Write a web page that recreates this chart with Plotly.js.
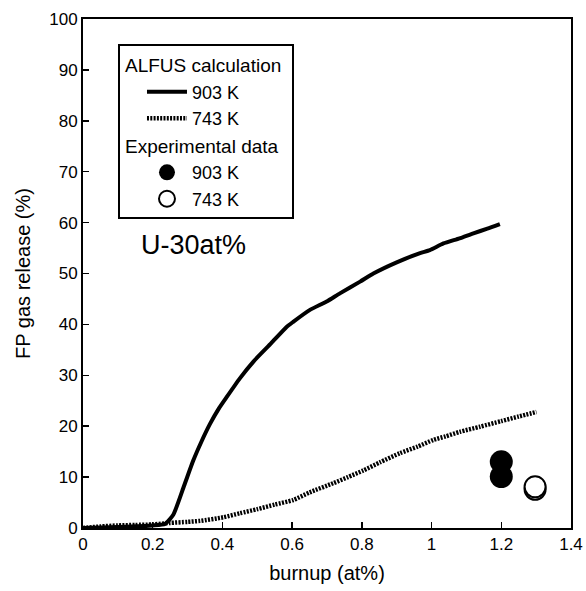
<!DOCTYPE html>
<html>
<head>
<meta charset="utf-8">
<script src="https://cdn.plot.ly/plotly-3.0.1.min.js"></script>
<style>
  html, body { margin: 0; padding: 0; background: #ffffff; }
  #chart { width: 586px; height: 591px; }
</style>
</head>
<body>
<div id="chart"></div>
<script>
// ALFUS calculation, 903 K
const calc903Burnup = [0, 0.10, 0.20, 0.235, 0.259, 0.29, 0.316, 0.34, 0.364, 0.39, 0.412, 0.45, 0.489, 0.54, 0.584, 0.603, 0.65, 0.699, 0.737, 0.795, 0.833, 0.90, 0.967, 0.995, 1.034, 1.08, 1.12, 1.16, 1.196];
const calc903Release = [0, 0.2, 0.5, 0.8, 2.6, 8.3, 13.2, 17.0, 20.4, 23.5, 25.7, 29.4, 32.7, 36.3, 39.5, 40.5, 42.8, 44.5, 46.1, 48.4, 50.0, 52.2, 54.0, 54.6, 55.9, 56.9, 57.9, 58.8, 59.7];

// ALFUS calculation, 743 K
const calc743Burnup = [0, 0.05, 0.10, 0.15, 0.20, 0.25, 0.30, 0.336, 0.402, 0.45, 0.50, 0.55, 0.603, 0.65, 0.718, 0.76, 0.804, 0.852, 0.909, 0.96, 1.005, 1.04, 1.081, 1.139, 1.20, 1.25, 1.301];
const calc743Release = [0, 0.3, 0.5, 0.6, 0.7, 1.0, 1.2, 1.4, 2.1, 2.9, 3.7, 4.6, 5.5, 7.0, 8.8, 10.0, 11.3, 12.9, 14.7, 16.0, 17.3, 18.0, 18.9, 19.9, 21.0, 21.9, 22.8];

// Experimental data
const exp903Burnup = [1.2, 1.2];
const exp903Release = [10.1, 13.0];
const exp743Burnup = [1.297, 1.297];
const exp743Release = [7.6, 8.1];

const xTickVals = [0, 0.2, 0.4, 0.6, 0.8, 1.0, 1.2, 1.4];
const xTickText = ["0", "0.2", "0.4", "0.6", "0.8", "1", "1.2", "1.4"];
const yTickVals = [0, 10, 20, 30, 40, 50, 60, 70, 80, 90, 100];

const FONT = "Liberation Sans, Arial, Helvetica, sans-serif";

const traces = [
  {
    x: calc903Burnup, y: calc903Release, type: "scatter", mode: "lines",
    name: "903 K", legendgroup: "calc",
    legendgrouptitle: { text: "ALFUS calculation", font: { size: 19, color: "#000" } },
    line: { color: "#000000", width: 4, shape: "spline", smoothing: 0.5 }
  },
  {
    x: calc743Burnup, y: calc743Release, type: "scatter", mode: "lines",
    name: "743 K", legendgroup: "calc",
    line: { color: "#000000", width: 4.5, dash: "2px,1.3px", shape: "spline", smoothing: 0.6 }
  },
  {
    x: exp903Burnup, y: exp903Release, type: "scatter", mode: "markers",
    name: "903 K", legendgroup: "exp",
    legendgrouptitle: { text: "Experimental data", font: { size: 19, color: "#000" } },
    marker: { symbol: "circle", size: 23, color: "#000000", line: { color: "#000", width: 0 } }
  },
  {
    x: exp743Burnup, y: exp743Release, type: "scatter", mode: "markers",
    name: "743 K", legendgroup: "exp",
    marker: { symbol: "circle", size: 21, color: "#ffffff", line: { color: "#000000", width: 2 } }
  }
];

const layout = {
  width: 586, height: 591,
  margin: { l: 83, r: 15, t: 19, b: 63 },
  paper_bgcolor: "#ffffff", plot_bgcolor: "#ffffff",
  font: { family: FONT, size: 17, color: "#000000" },
  showlegend: true,
  legend: {
    x: 0.0717, y: 0.951, xanchor: "left", yanchor: "top",
    bordercolor: "#000000", borderwidth: 2, bgcolor: "#ffffff",
    font: { family: FONT, size: 18, color: "#000" },
    tracegroupgap: 0,
    indentation: 22,
    itemwidth: 40
  },
  xaxis: {
    range: [0, 1.4], tickmode: "array", tickvals: xTickVals, ticktext: xTickText,
    ticks: "inside", ticklen: 6, tickwidth: 1.5, tickcolor: "#000",
    showline: true, linecolor: "#000", linewidth: 2, mirror: true,
    showgrid: false, zeroline: false,
    tickfont: { family: FONT, size: 17, color: "#000" },
    title: { text: "burnup (at%)", font: { family: FONT, size: 20, color: "#000" }, standoff: 13 },
    automargin: false
  },
  yaxis: {
    range: [0, 100], tickmode: "array", tickvals: yTickVals,
    ticks: "inside", ticklen: 6, tickwidth: 1.5, tickcolor: "#000",
    showline: true, linecolor: "#000", linewidth: 2, mirror: true,
    showgrid: false, zeroline: false,
    tickfont: { family: FONT, size: 17, color: "#000" },
    title: { text: "FP gas release (%)", font: { family: FONT, size: 20, color: "#000" }, standoff: 13 },
    automargin: false
  },
  annotations: [
    {
      text: "U-30at%", x: 0.318, y: 55.6, xref: "x", yref: "y",
      showarrow: false, font: { family: FONT, size: 27, color: "#000" }
    }
  ]
};

Plotly.newPlot("chart", traces, layout, { displayModeBar: false, staticPlot: true });
</script>
</body>
</html>
